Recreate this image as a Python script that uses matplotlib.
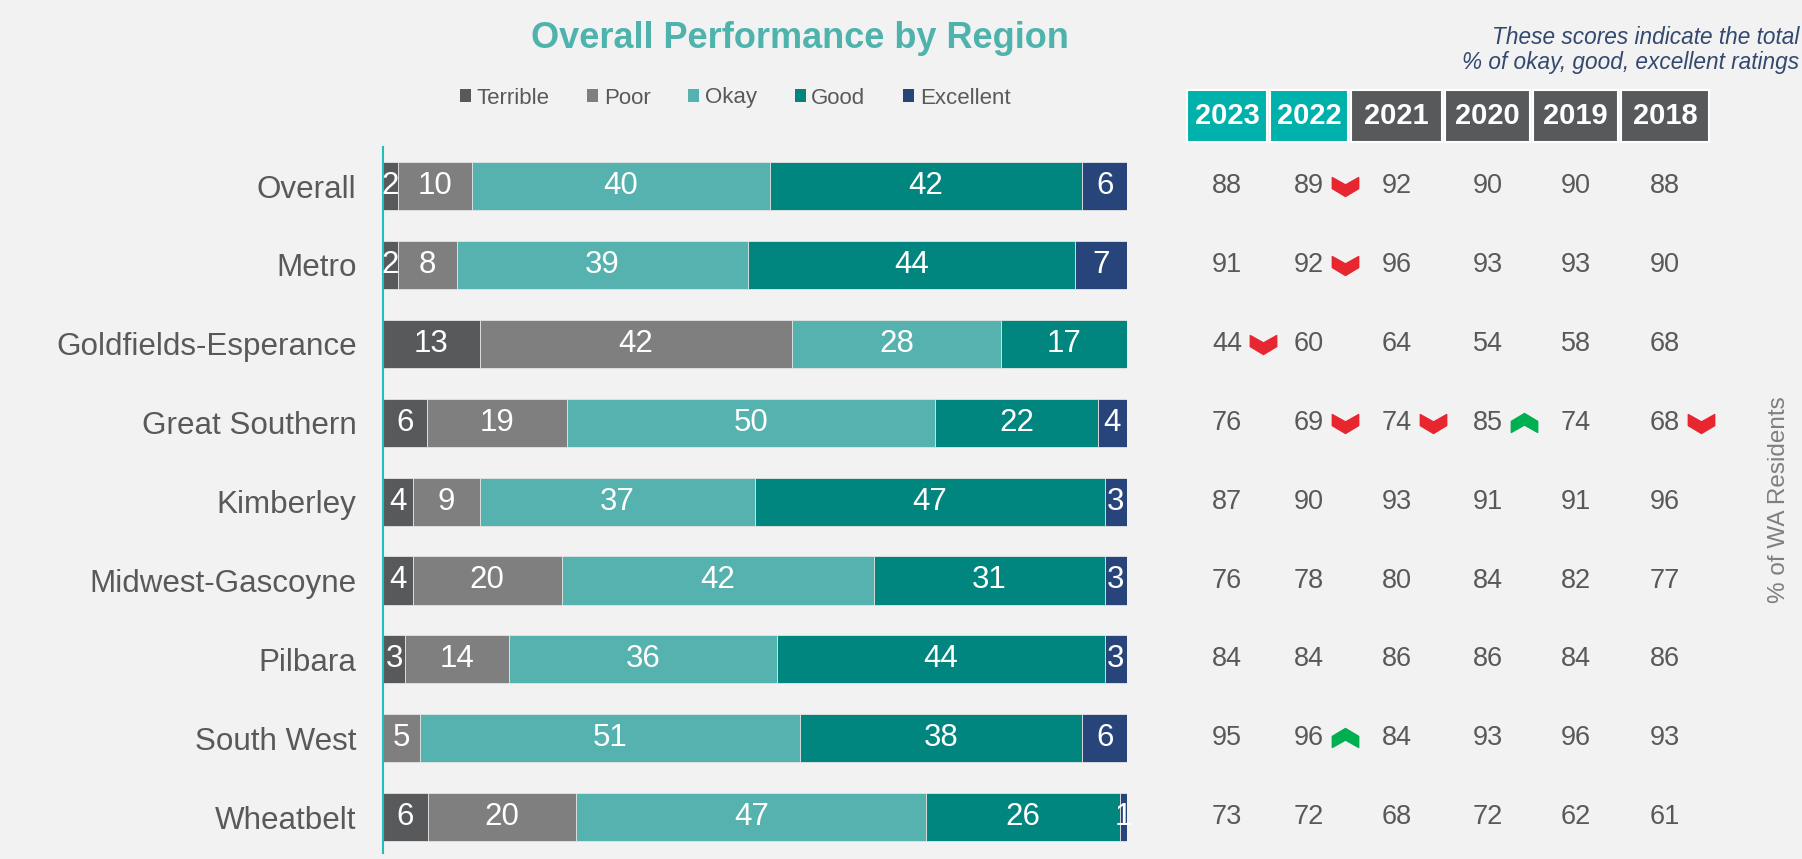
import numpy as np
import matplotlib
matplotlib.use('Agg')
import matplotlib.pyplot as plt
from matplotlib.patches import Patch, Rectangle
from matplotlib.path import Path

plt.rcParams['font.family'] = ['Liberation Sans', 'DejaVu Sans']

# data
regions = ['Overall', 'Metro', 'Goldfields-Esperance', 'Great Southern', 'Kimberley',
           'Midwest-Gascoyne', 'Pilbara', 'South West', 'Wheatbelt']
ratings = ['Terrible', 'Poor', 'Okay', 'Good', 'Excellent']
terrible = [2, 2, 13, 6, 4, 4, 3, 0, 6]
poor = [10, 8, 42, 19, 9, 20, 14, 5, 20]
okay = [40, 39, 28, 50, 37, 42, 36, 51, 47]
good = [42, 44, 17, 22, 47, 31, 44, 38, 26]
excellent = [6, 7, 0, 4, 3, 3, 3, 6, 1]

years = ['2023', '2022', '2021', '2020', '2019', '2018']
s2023 = [88, 91, 44, 76, 87, 76, 84, 95, 73]
s2022 = [89, 92, 60, 69, 90, 78, 84, 96, 72]
s2021 = [92, 96, 64, 74, 93, 80, 86, 84, 68]
s2020 = [90, 93, 54, 85, 91, 84, 86, 93, 72]
s2019 = [90, 93, 58, 74, 91, 82, 84, 96, 62]
s2018 = [88, 90, 68, 68, 96, 77, 86, 93, 61]

# significant changes (region, year, direction)
changes = [('Overall', '2022', 'down'), ('Metro', '2022', 'down'),
           ('Goldfields-Esperance', '2023', 'down'), ('Great Southern', '2022', 'down'),
           ('Great Southern', '2021', 'down'), ('Great Southern', '2020', 'up'),
           ('Great Southern', '2018', 'down'), ('South West', '2022', 'up')]

colors = ['#58595b', '#7f7f7f', '#55b2ae', '#00857f', '#27457a']
header_colors = ['#00b0aa', '#00b0aa', '#58595b', '#58595b', '#58595b', '#58595b']
grey_txt = '#595959'
bg = '#f2f2f2'

W, H = 1802, 859
fig = plt.figure(figsize=(W / 100, H / 100), dpi=100, facecolor=bg)

# bar chart axes
ax_top, ax_bot = 147, 853
ax = fig.add_axes([383 / W, 1 - ax_bot / H, (1127 - 383) / W, (ax_bot - ax_top) / H])
ax.set_facecolor(bg)

series = np.array([terrible, poor, okay, good, excellent], dtype=float)
totals = series.sum(axis=0)
shares = series / totals * 100
y = np.arange(len(regions))
left = np.zeros(len(regions))
for k in range(len(ratings)):
    bars = ax.barh(y, shares[k], left=left, height=0.61, color=colors[k],
                   edgecolor='#e4e4e4', linewidth=0.6)
    for i, b in enumerate(bars):
        v = int(series[k, i])
        if v > 0:
            ax.text(left[i] + shares[k, i] / 2, y[i], str(v), ha='center', va='center',
                    color='white', fontsize=22.5)
    left += shares[k]

row_px = 186
step_px = 78.9
ax.set_ylim((ax_bot - row_px) / step_px, (ax_top - row_px) / step_px)
ax.set_xlim(0, 100)
ax.set_yticks(y)
ax.set_yticklabels(regions, fontsize=22.6, color=grey_txt)
ax.tick_params(axis='y', length=0, pad=19)
ax.set_xticks([])
for s in ['top', 'right', 'bottom']:
    ax.spines[s].set_visible(False)
ax.spines['left'].set_color('#1fbfbf')
ax.spines['left'].set_linewidth(1.5)

# title and legend
fig.text(800 / W, 1 - 38 / H, 'Overall Performance by Region', ha='center', va='center',
         fontsize=26, fontweight='bold', color='#4fb3ad')
handles = [Patch(facecolor=c, edgecolor='none') for c in colors]
fig.legend(handles, ratings, loc='center', bbox_to_anchor=(735 / W, 1 - 98 / H), ncol=5,
           frameon=False, fontsize=16, handlelength=0.5, handleheight=0.5,
           handletextpad=0.25, columnspacing=1.7, labelcolor=grey_txt)

# score table, sharing the row scale with the bars
tx0, tx1 = 1187, 1709
tax = fig.add_axes([tx0 / W, 1 - ax_bot / H, (tx1 - tx0) / W, (ax_bot - ax_top) / H], sharey=ax)
tax.set_xlim(tx0, tx1)
tax.axis('off')

col_edges = [(1187, 1267), (1270, 1348), (1351, 1442), (1445, 1530), (1533, 1618), (1621, 1709)]
hdr_top = (90 - row_px) / step_px
hdr_bot = (142 - row_px) / step_px
scores = [s2023, s2022, s2021, s2020, s2019, s2018]
centers = []
for j, (x0, x1) in enumerate(col_edges):
    tax.add_patch(Rectangle((x0, hdr_top), x1 - x0, hdr_bot - hdr_top, facecolor=header_colors[j],
                            edgecolor='white', linewidth=1.5, clip_on=False))
    cx = (x0 + x1) / 2
    centers.append(cx)
    tax.text(cx, (hdr_top + hdr_bot) / 2, years[j], ha='center', va='center', color='white',
             fontsize=21, fontweight='bold', clip_on=False)
    for i, v in enumerate(scores[j]):
        tax.text(cx, y[i], str(v), ha='center', va='center', color=grey_txt, fontsize=19.5)

# chevron markers, centred on the origin
down = Path([(-0.5, 0.34), (0, 0.06), (0.5, 0.34), (0.5, -0.08), (0, -0.38), (-0.5, -0.08), (-0.5, 0.34)],
            [Path.MOVETO] + [Path.LINETO] * 5 + [Path.CLOSEPOLY])
up = Path([(-0.5, -0.34), (0, -0.06), (0.5, -0.34), (0.5, 0.08), (0, 0.38), (-0.5, 0.08), (-0.5, -0.34)],
          [Path.MOVETO] + [Path.LINETO] * 5 + [Path.CLOSEPOLY])
for reg, yr, d in changes:
    i = regions.index(reg)
    j = years.index(yr)
    if d == 'down':
        tax.plot(centers[j] + 36, y[i], marker=down, markersize=19, color='#e8262f',
                 linestyle='none', clip_on=False)
    else:
        tax.plot(centers[j] + 36, y[i], marker=up, markersize=19, color='#00b050',
                 linestyle='none', clip_on=False)

# side notes
fig.text(1799 / W, 1 - 37 / H, 'These scores indicate the total', ha='right', va='center',
         fontsize=16.3, style='italic', color='#34496e')
fig.text(1799 / W, 1 - 62 / H, '% of okay, good, excellent ratings', ha='right', va='center',
         fontsize=16.3, style='italic', color='#34496e')
fig.text(1779 / W, 1 - 500 / H, '% of WA Residents', rotation=90, ha='center', va='center',
         fontsize=17.5, color='#7f7f7f')

fig.savefig('out.png', dpi=100, facecolor=bg)
